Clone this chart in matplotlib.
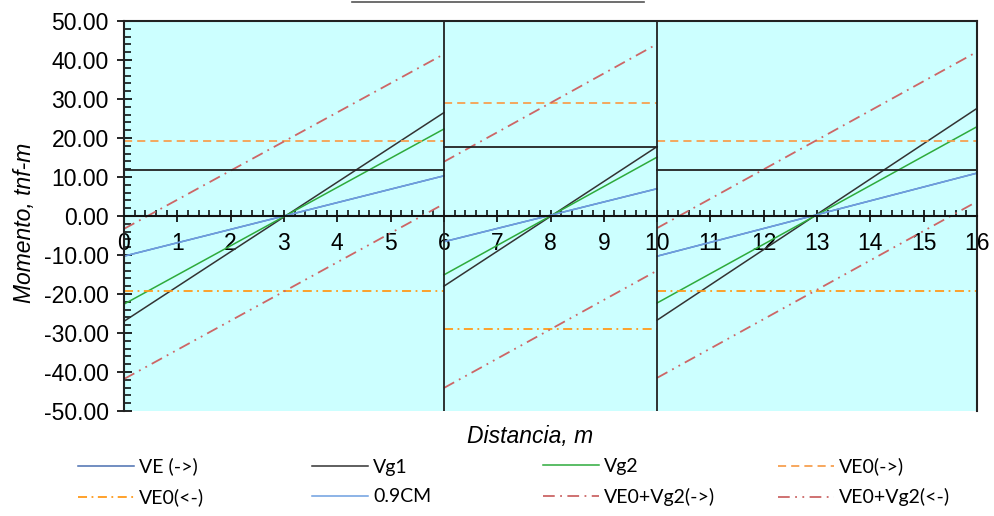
import numpy as np
import matplotlib
matplotlib.use("Agg")
import matplotlib.pyplot as plt
from matplotlib.lines import Line2D

# Spans of the beam (m)
span_start = [0, 6, 10]
span_end = [6, 10, 16]

# Moment values at the start / end of each span (tnf-m)
ve_start = [-10.3, -6.6, -10.3]
ve_end = [10.3, 7.0, 11.0]
vg1_start = [-27.0, -18.0, -26.7]
vg1_end = [26.5, 17.8, 27.6]
vg2_start = [-22.6, -15.1, -22.3]
vg2_end = [22.3, 15.1, 22.9]
ve0_right = [19.2, 29.0, 19.2]
ve0_left = [-19.2, -29.0, -19.2]
cm09_start = [-10.3, -6.6, -10.3]
cm09_end = [10.3, 7.0, 11.0]
sum_right_start = [-3.3, 13.9, -3.1]
sum_right_end = [41.5, 44.1, 42.1]
sum_left_start = [-41.8, -44.1, -41.5]
sum_left_end = [3.1, -14.0, 3.7]

# Capacity envelope and span dividers
capacity_level = [11.8, 17.8, 11.8]
dividers = [6, 10]

x_ticks = list(range(0, 17))
y_ticks = list(range(-50, 51, 10))


def segments(starts, ends):
    xs, ys = [], []
    for s, e, a, b in zip(span_start, span_end, starts, ends):
        xs += [s, e, np.nan]
        ys += [a, b, np.nan]
    return np.array(xs, float), np.array(ys, float)


fig = plt.figure(figsize=(9.94, 5.16), dpi=100)
W, H = 994, 516
ax = fig.add_axes([124 / W, 1 - 411 / H, (977 - 124) / W, (411 - 21) / H])
ax.set_facecolor("#ccffff")

lw = 1.1
handles = {}

x, y = segments(ve_start, ve_end)
handles["VE (->)"], = ax.plot(x, y, color="#4a6fb0", lw=lw, label="VE (->)")
x, y = segments(vg1_start, vg1_end)
handles["Vg1"], = ax.plot(x, y, color="#333333", lw=lw, label="Vg1")
x, y = segments(vg2_start, vg2_end)
handles["Vg2"], = ax.plot(x, y, color="#2eab3c", lw=lw, label="Vg2")
x, y = segments(ve0_right, ve0_right)
handles["VE0(->)"], = ax.plot(x, y, color="#f7a050", lw=1.3,
                              dashes=(4.5, 2.8), label="VE0(->)")
x, y = segments(ve0_left, ve0_left)
handles["VE0(<-)"], = ax.plot(x, y, color="#ff9a1a", lw=1.3,
                              dashes=(5, 2.5, 1, 2.5), label="VE0(<-)")
x, y = segments(cm09_start, cm09_end)
handles["0.9CM"], = ax.plot(x, y, color="#6e9fe0", lw=lw, label="0.9CM")
x, y = segments(sum_right_start, sum_right_end)
handles["VE0+Vg2(->)"], = ax.plot(x, y, color="#cc6666", lw=1.3,
                                  dashes=(6.5, 3, 1, 3), label="VE0+Vg2(->)")
x, y = segments(sum_left_start, sum_left_end)
handles["VE0+Vg2(<-)"], = ax.plot(x, y, color="#cc6666", lw=1.3,
                                  dashes=(6.5, 3, 1, 3, 1, 3),
                                  label="VE0+Vg2(<-)")

# capacity envelope and span dividers
x, y = segments(capacity_level, capacity_level)
ax.plot(x, y, color="#222222", lw=1.3)
for d in dividers:
    ax.axvline(d, color="#222222", lw=1.3)

ax.set_xlim(0, 16)
ax.set_ylim(-50, 50)

ax.spines["bottom"].set_position(("data", 0))
ax.spines["bottom"].set_linewidth(1.5)
for side in ("left", "top", "right"):
    ax.spines[side].set_linewidth(1.5)
    ax.spines[side].set_color("#222222")
ax.spines["bottom"].set_color("#111111")

ax.set_xticks(x_ticks)
ax.set_xticks(np.arange(0, 16.01, 0.2), minor=True)
ax.set_yticks(y_ticks)
ax.set_yticks(np.arange(-50, 50.1, 2), minor=True)
ax.set_yticklabels([f"{v:.2f}" for v in y_ticks])

tick_font = "Liberation Sans"
ax.tick_params(axis="x", which="major", direction="inout", length=9,
               width=1.2, pad=7, labelsize=16.5)
ax.tick_params(axis="x", which="minor", direction="in", length=4.3, width=1.1)
ax.tick_params(axis="y", which="major", direction="inout", length=10.8,
               width=1.2, pad=5.5, labelsize=16.5)
ax.tick_params(axis="y", which="minor", direction="in", length=4.7, width=1.1)
for lab in ax.get_xticklabels() + ax.get_yticklabels():
    lab.set_fontfamily(tick_font)

fig.text(25 / W, 1 - 223 / H, "Momento, tnf-m", rotation=90, style="italic",
         fontsize=16.5, family=tick_font, ha="center", va="center")
fig.text(530 / W, 1 - 437 / H, "Distancia, m", style="italic",
         fontsize=16.5, family=tick_font, ha="center", va="center")

# underline of the heading above the plot
fig.add_artist(Line2D([352 / W, 644 / W], [1 - 1.5 / H, 1 - 1.5 / H],
                      color="#555555", lw=1.2))

# legend: four columns of two entries
columns = [["VE (->)", "VE0(<-)"], ["Vg1", "0.9CM"],
           ["Vg2", "VE0+Vg2(->)"], ["VE0(->)", "VE0+Vg2(<-)"]]
col_x = [78, 312, 543, 778]
for cx, names in zip(col_x, columns):
    fig.legend([handles[n] for n in names], names, loc="center left",
               bbox_to_anchor=(cx / W, 1 - 482 / H), frameon=False,
               prop={"family": "Lato", "size": 14}, handlelength=2.9,
               handletextpad=0.25, labelspacing=0.66, borderpad=0,
               borderaxespad=0)

fig.savefig("out.png", dpi=100)
